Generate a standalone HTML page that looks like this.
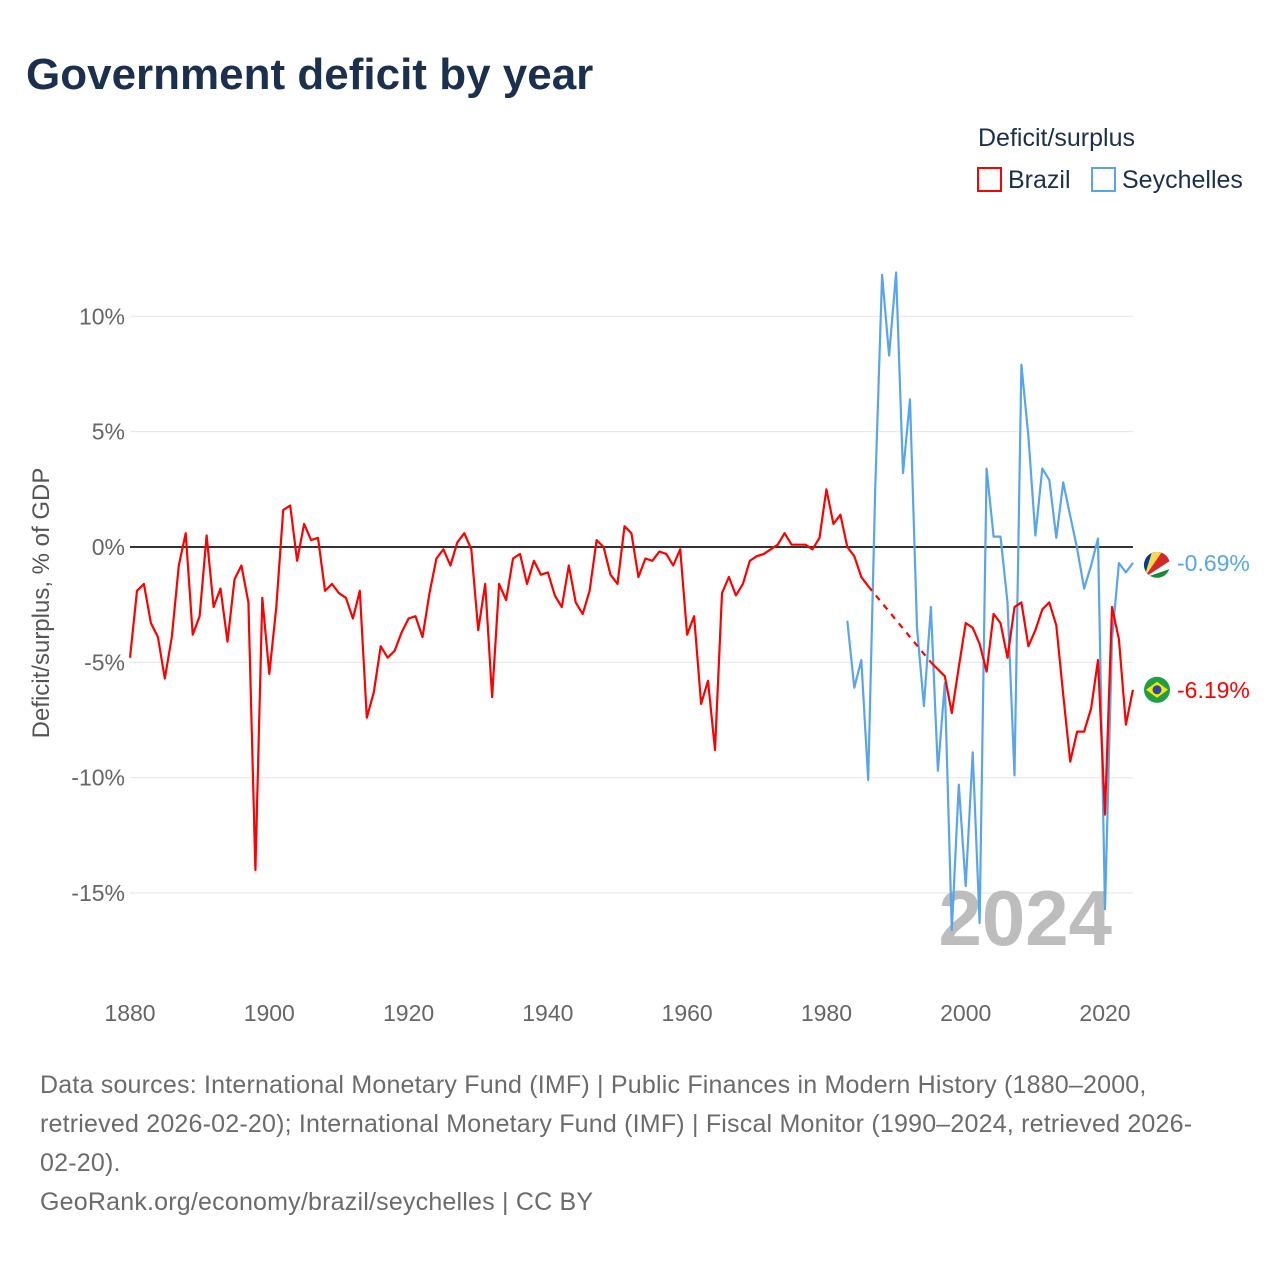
<!DOCTYPE html>
<html><head><meta charset="utf-8">
<style>
body{margin:0;background:#fff;font-family:"Liberation Sans",sans-serif;}
#wrap{position:relative;width:1280px;height:1280px;overflow:hidden;background:#fff;}
.t{position:absolute;white-space:nowrap;}
</style></head>
<body>
<div id="wrap">
<div class="t" style="left:26px;top:50px;font-size:44px;font-weight:bold;color:#1b2f4e;">Government deficit by year</div>
<div class="t" style="left:978px;top:124px;font-size:25px;color:#1b2f4e;">Deficit/surplus</div>
<div class="t" style="left:977px;top:166px;font-size:25px;color:#1b2f4e;"><span style="display:inline-block;border:2px solid #f00;vertical-align:-4px;margin-right:6px;box-sizing:border-box;width:25px;height:25px;"></span>Brazil</div>
<div class="t" style="left:1091px;top:166px;font-size:25px;color:#1b2f4e;"><span style="display:inline-block;border:2px solid #5aa5ea;vertical-align:-4px;margin-right:6px;box-sizing:border-box;width:25px;height:25px;"></span>Seychelles</div>
<svg id="chart" width="1280" height="1280" style="position:absolute;left:0;top:0"></svg>
<div class="t" style="left:42px;top:603px;font-size:24px;color:#555;transform:translate(-50%,-50%) rotate(-90deg);">Deficit/surplus, % of GDP</div>
<div class="t" style="left:40px;top:1066px;font-size:25px;letter-spacing:0.2px;line-height:39px;color:#6b6b6b;">Data sources: International Monetary Fund (IMF) | Public Finances in Modern History (1880–2000,<br>retrieved 2026-02-20); International Monetary Fund (IMF) | Fiscal Monitor (1990–2024, retrieved 2026-<br>02-20).<br>GeoRank.org/economy/brazil/seychelles | CC BY</div>
</div>
<script>
const brazilYears=[];for(let y=1880;y<=1986;y++)brazilYears.push(y);
const brazilValues=[-4.8,-1.9,-1.6,-3.3,-3.9,-5.7,-3.9,-0.8,0.6,-3.8,-3.0,0.5,-2.6,-1.8,-4.1,-1.4,-0.8,-2.4,-14.0,-2.2,-5.5,-2.6,1.6,1.8,-0.6,1.0,0.3,0.4,-1.9,-1.6,-2.0,-2.2,-3.1,-1.9,-7.4,-6.3,-4.3,-4.8,-4.5,-3.7,-3.1,-3.0,-3.9,-2.0,-0.5,-0.1,-0.8,0.2,0.6,-0.1,-3.6,-1.6,-6.5,-1.6,-2.3,-0.5,-0.3,-1.6,-0.6,-1.2,-1.1,-2.1,-2.6,-0.8,-2.4,-2.9,-1.9,0.3,0.0,-1.2,-1.6,0.9,0.6,-1.3,-0.5,-0.6,-0.2,-0.3,-0.8,-0.1,-3.8,-3.0,-6.8,-5.8,-8.8,-2.0,-1.3,-2.1,-1.6,-0.6,-0.4,-0.3,-0.1,0.1,0.6,0.1,0.1,0.1,-0.1,0.4,2.5,1.0,1.4,0.0,-0.4,-1.3,-1.7];
const brazilYears2=[];for(let y=1995;y<=2024;y++)brazilYears2.push(y);
const brazilValues2=[-5.0,-5.3,-5.6,-7.2,-5.2,-3.3,-3.5,-4.2,-5.4,-2.9,-3.3,-4.8,-2.6,-2.4,-4.3,-3.6,-2.7,-2.4,-3.4,-6.4,-9.3,-8.0,-8.0,-7.0,-4.9,-11.6,-2.6,-4.0,-7.7,-6.19];
const seyYears=[];for(let y=1983;y<=2024;y++)seyYears.push(y);
const seyValues=[-3.2,-6.1,-4.9,-10.1,2.5,11.8,8.3,11.9,3.2,6.4,-3.5,-6.9,-2.6,-9.7,-5.9,-16.6,-10.3,-14.7,-8.9,-16.3,3.4,0.45,0.45,-2.4,-9.9,7.9,4.8,0.5,3.4,2.9,0.4,2.8,1.35,-0.06,-1.8,-0.8,0.37,-15.7,-4.0,-0.7,-1.1,-0.69];
const yTicks=[10,5,0,-5,-10,-15];
const xTicks=[1880,1900,1920,1940,1960,1980,2000,2020];
const X=y=>130+(y-1880)*975/140;
const Y=v=>547-v*23.07;
const NS='http://www.w3.org/2000/svg';
const svg=document.getElementById('chart');
function mk(tag,attrs){const e=document.createElementNS(NS,tag);for(const k in attrs)e.setAttribute(k,attrs[k]);svg.appendChild(e);return e;}
yTicks.forEach(v=>{
  const l=mk('line',{x1:130,x2:1133,y1:Y(v),y2:Y(v),stroke:v===0?'#333':'#e6e6e6','stroke-width':v===0?2:1});
  
  
  const t=mk('text',{x:125,y:Y(v)+8,'text-anchor':'end','font-size':23,fill:'#666','font-family':'Liberation Sans, sans-serif'});
  t.textContent=v+'%';
  
  
});
xTicks.forEach(y=>{
  const t=mk('text',{x:X(y),y:1021,'text-anchor':'middle','font-size':23,fill:'#666','font-family':'Liberation Sans, sans-serif'});
  t.textContent=y;
  
  
});
const wm=mk('text',{x:1112,y:945,'text-anchor':'end','font-size':78,'font-weight':'bold',fill:'#bdbdbd','font-family':'Liberation Sans, sans-serif'});
wm.textContent='2024';


function path(xs,vs){return xs.map((y,i)=>(i?'L':'M')+X(y).toFixed(1)+' '+Y(vs[i]).toFixed(1)).join(' ');}
const s=mk('path',{d:path(seyYears,seyValues),fill:'none',stroke:'#5aa5ea','stroke-width':2.2,'stroke-linejoin':'round'});


const b1=mk('path',{d:path(brazilYears,brazilValues),fill:'none',stroke:'#f00','stroke-width':2.2,'stroke-linejoin':'round'});


const lastB=brazilYears.length-1;
const gap=mk('line',{x1:X(brazilYears[lastB]),y1:Y(brazilValues[lastB]),x2:X(brazilYears2[0]),y2:Y(brazilValues2[0]),stroke:'#f00','stroke-width':2.2,'stroke-dasharray':'6,6'});


const b2=mk('path',{d:path(brazilYears2,brazilValues2),fill:'none',stroke:'#f00','stroke-width':2.2,'stroke-linejoin':'round'});


const sv=seyValues[seyValues.length-1], bv=brazilValues2[brazilValues2.length-1];
const fS=mk('g',{});


fS.innerHTML=`<clipPath id="cs"><circle cx="1157" cy="${Y(sv)+2}" r="13"/></clipPath><g clip-path="url(#cs)"><rect x="1144" y="${Y(sv)-11}" width="26" height="26" fill="#1d8a3a"/><polygon points="1144,${Y(sv)+15} 1144,${Y(sv)-11} 1170,${Y(sv)-11}" fill="#003f87"/><polygon points="1144,${Y(sv)+15} 1152,${Y(sv)-11} 1170,${Y(sv)-11}" fill="#fcd856"/><polygon points="1144,${Y(sv)+15} 1162,${Y(sv)-11} 1170,${Y(sv)-11} 1170,${Y(sv)-2}" fill="#d62828"/><polygon points="1144,${Y(sv)+15} 1170,${Y(sv)-2} 1170,${Y(sv)+6}" fill="#fff"/></g>`;
const fB=mk('g',{});


fB.innerHTML=`<circle cx="1157" cy="${Y(bv)}" r="13" fill="#229e45"/><polygon points="1146,${Y(bv)} 1157,${Y(bv)-8} 1168,${Y(bv)} 1157,${Y(bv)+8}" fill="#f8e509"/><circle cx="1157" cy="${Y(bv)}" r="4.5" fill="#2b49a3"/>`;
const ls=mk('text',{x:1177,y:Y(sv)+8,'font-size':23,fill:'#5aa5ea','font-family':'Liberation Sans, sans-serif'});
ls.textContent=sv.toFixed(2)+'%';


const lb=mk('text',{x:1177,y:Y(bv)+8,'font-size':23,fill:'#f00','font-family':'Liberation Sans, sans-serif'});
lb.textContent=bv.toFixed(2)+'%';


</script>
</body></html>
